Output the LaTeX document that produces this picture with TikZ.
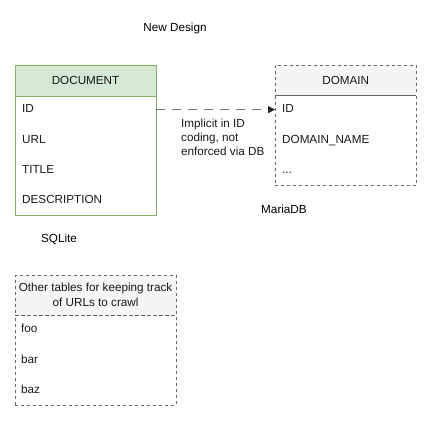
\documentclass[tikz,border=0pt]{standalone}
\usepackage{fontspec}
\setmainfont{Liberation Sans}
\usetikzlibrary{arrows.meta,positioning}

\definecolor{docgreen}{HTML}{82B366}
\definecolor{docfill}{HTML}{D5E8D4}
\definecolor{headgray}{HTML}{F5F5F5}
\definecolor{dashgray}{HTML}{666666}

\begin{document}
\begin{tikzpicture}[
        x=1pt, y=-1pt,
        node distance=19pt and 0pt,
        every node/.style={font=\fontsize{11.7}{14}\selectfont, inner sep=0pt, text=black!90},
        sqltab/.style={draw=docgreen, anchor=north west},
        othertab/.style={draw=dashgray, dash pattern=on 3pt off 3pt, anchor=north west},
        field/.style={anchor=north west, text height=8.5pt, text depth=2.5pt},
        caption/.style={text=black}
    ]
    \useasboundingbox (0,0) rectangle (431,421);

    % Title
    \node[caption] (title) at (175,28) {New Design};

    % SQLite table
    \node[sqltab, fill=docfill, minimum width=140.7pt, minimum height=30.7pt] (dochead) at (15,65) {DOCUMENT};
    \node[sqltab, minimum width=140.7pt, minimum height=119.3pt, below=0pt of dochead.south west, anchor=north west] (docbody) {};
    \node[field] (docid) at ([xshift=7pt, yshift=-7.8pt]dochead.south west) {ID};
    \node[field, below=of docid.south west, anchor=north west] (docurl) {URL};
    \node[field, below=of docurl.south west, anchor=north west] (doctitle) {TITLE};
    \node[field, below=of doctitle.south west, anchor=north west] (docdesc) {DESCRIPTION};
    \node[caption] (sqlite) at (59,239) {SQLite};

    % MariaDB table
    \node[othertab, fill=headgray, minimum width=141pt, minimum height=30pt] (domhead) at (275,65) {DOMAIN};
    \node[othertab, minimum width=141pt, minimum height=90pt, below=0pt of domhead.south west, anchor=north west] (dombody) {};
    \node[field] (domid) at ([xshift=7pt, yshift=-8.5pt]domhead.south west) {ID};
    \node[field, below=of domid.south west, anchor=north west] (domname) {DOMAIN\_NAME};
    \node[field, below=of domname.south west, anchor=north west] (domdots) {...};
    \node[caption] (mariadb) at (284,209) {MariaDB};

    % crawl tables
    \node[othertab, fill=headgray, minimum width=160.7pt, minimum height=40pt, align=center,
        font=\fontsize{11.7}{15}\selectfont] (crawlhead) at (15,275) {Other tables for keeping track\\of URLs to crawl};
    \node[othertab, minimum width=160.7pt, minimum height=90pt, below=0pt of crawlhead.south west, anchor=north west] (crawlbody) {};
    \node[field] (foo) at ([xshift=6pt, yshift=-8.5pt]crawlhead.south west) {foo};
    \node[field, below=of foo.south west, anchor=north west] (bar) {bar};
    \node[field, below=of bar.south west, anchor=north west] (baz) {baz};

    % Edges
    \draw[-{Triangle[width=7pt,length=7pt]}, black!85, dash pattern=on 9pt off 7pt]
        (dochead.east |- docid) -- (domhead.west |- domid);
    \node[anchor=north west, align=left] (implicit) at (181,118.5) {Implicit in ID\\coding, not\\enforced via DB};

\end{tikzpicture}
\end{document}
